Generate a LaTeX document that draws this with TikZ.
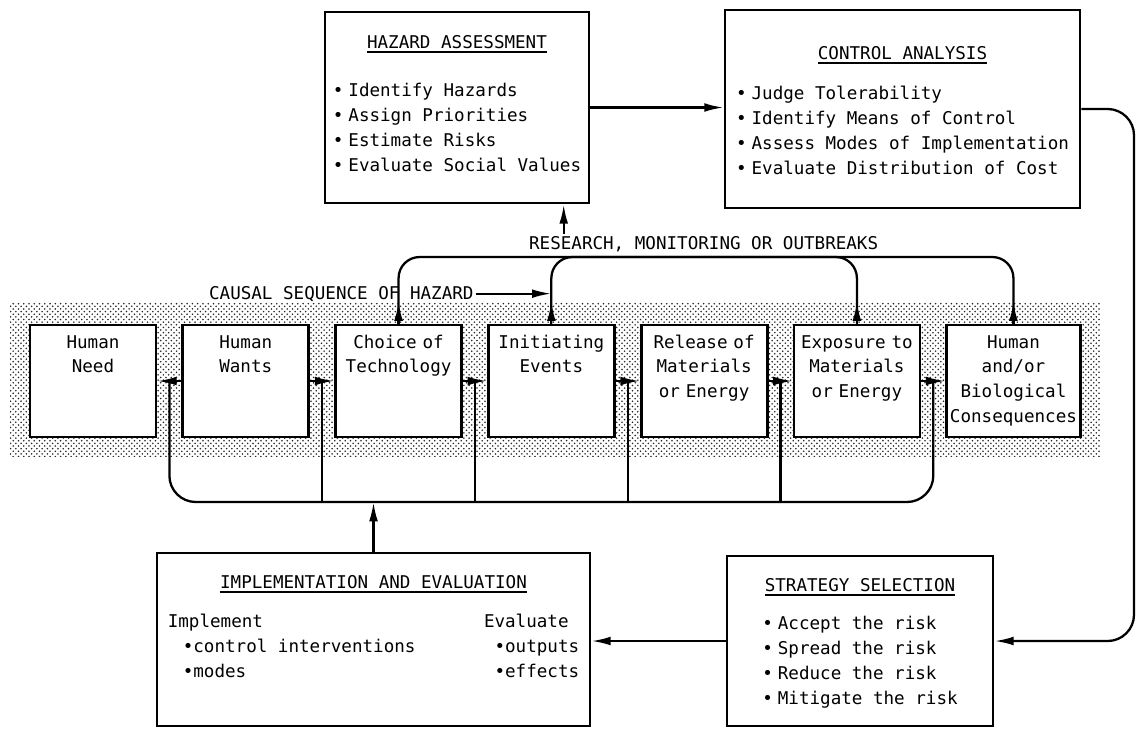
\documentclass[tikz,border=0pt]{standalone}
\usepackage{fontspec}
\setmainfont{DejaVu Sans Mono}
\usetikzlibrary{positioning,arrows.meta,calc,patterns}

\newcommand{\heading}[1]{\setbox0=\hbox{#1}\rlap{\rule[-3pt]{\wd0}{1.2pt}}\box0}
\newcommand{\bul}{\textbullet\hspace{0.1cm}}

\begin{document}
\begin{tikzpicture}[x=0.02cm, y=-0.02cm, >={Latex[length=11pt,width=5pt]},
    node distance=0.48cm,
    every node/.style={font=\fontsize{10}{14.2}\selectfont},
    chainbox/.style={draw, line width=1.6pt, fill=white, inner xsep=0.06cm, inner ysep=0pt,
      text width=2.4cm, align=center, text height=0.46cm, text depth=1.78cm},
    panel/.style={draw, line width=1.6pt, fill=white, inner sep=0pt},
    link/.style={line width=1.3pt},
    tag/.style={inner sep=1pt}]

  \useasboundingbox (0,0) rectangle (1138,728);

  % shaded band behind the causal chain
  \fill[pattern=crosshatch dots, pattern color=black!85] (10,302) rectangle (1100,456);

  % causal chain
  \node[chainbox] (need) at (93,381) {Human\\Need};
  \node[chainbox, right=of need] (wants) {Human\\Wants};
  \node[chainbox, right=of wants] (choice) {Choice of\\Technology};
  \node[chainbox, right=of choice] (init) {Initiating\\Events};
  \node[chainbox, right=of init] (release) {Release of\\Materials\\or Energy};
  \node[chainbox, right=of release] (expo) {Exposure to\\Materials\\or Energy};
  \node[chainbox, right=of expo, text width=2.55cm] (human) {Human\\and/or\\Biological\\Consequences};

  \draw[link,->] (wants) -- (need);
  \foreach \a/\b in {wants/choice, choice/init, init/release, release/expo, expo/human}
    \draw[link,->] (\a) -- (\b);

  % feedback bus under the chain
  \coordinate (fb) at (0,502);
  \foreach \a/\b/\g in {need/wants/g1, wants/choice/g2, choice/init/g3,
                        init/release/g4, release/expo/g5, expo/human/g6}
    \coordinate (\g) at ($(\a.east)!0.5!(\b.west)$);
  \draw[link, rounded corners=15pt] (g1) -- (g1 |- fb) -- (g6 |- fb) -- (g6);
  \foreach \g in {g2,g3,g4,g5}
    \draw[link] (\g |- fb) -- (\g);

  % management boxes
  \node[panel, minimum width=5.28cm, text height=0.72cm, text depth=3.1cm] (hazard) at (457,107.5) {%
    \begin{tabular}[t]{@{}l@{}}
      \multicolumn{1}{@{}c@{}}{\heading{HAZARD ASSESSMENT}}\\[0.48cm]
      \bul Identify Hazards\\
      \bul Assign Priorities\\
      \bul Estimate Risks\\
      \bul Evaluate Social Values
    \end{tabular}};
  \node[panel, minimum width=7.1cm, text height=0.98cm, text depth=2.98cm] (control) at (902.5,109) {%
    \begin{tabular}[t]{@{}l@{}}
      \multicolumn{1}{@{}c@{}}{\heading{CONTROL ANALYSIS}}\\[0.32cm]
      \bul Judge Tolerability\\
      \bul Identify Means of Control\\
      \bul Assess Modes of Implementation\\
      \bul Evaluate Distribution of Cost
    \end{tabular}};
  \node[panel, minimum width=5.32cm, text height=0.7cm, text depth=2.7cm] (strategy) at (860,641) {%
    \begin{tabular}[t]{@{}l@{}}
      \multicolumn{1}{@{}c@{}}{\heading{STRATEGY SELECTION}}\\[0.28cm]
      \bul Accept the risk\\
      \bul Spread the risk\\
      \bul Reduce the risk\\
      \bul Mitigate the risk
    \end{tabular}};
  \node[panel, minimum width=8.66cm, text height=0.7cm, text depth=2.76cm] (impl) at (373.5,639.5) {%
    \begin{tabular}[t]{@{}l@{\hspace{1.37cm}}l@{}}
      \multicolumn{2}{@{}c@{}}{\heading{IMPLEMENTATION AND EVALUATION}}\\[0.3cm]
      Implement & Evaluate\\
      \hspace{0.3cm}\textbullet control interventions & \ \textbullet outputs\\
      \hspace{0.3cm}\textbullet modes & \ \textbullet effects
    \end{tabular}};

  \draw[link,->] (hazard.east) -- (hazard.east -| control.west);
  \coordinate (edge) at (1134,0);
  \draw[link,->, rounded corners=15pt] (control.east) -| (edge |- strategy.east) -- (strategy.east);
  \draw[link,->] (strategy.west) -- (strategy.west -| impl.east);
  \draw[link,->] (impl.north) -- (impl.north |- fb);

  % research links over the chain
  \coordinate (rb) at (0,257);
  \foreach \n in {choice,init,expo,human}
    \draw[link,->] (\n.north) -- ++(0,-22);
  \draw[link, rounded corners=12pt] (choice.north) |- (expo.north |- rb) -- (expo.north);
  \draw[link, rounded corners=12pt] (init.north) |- (human.north |- rb) -- (human.north);
  \node[tag, anchor=base west] (research) at (527,249) {RESEARCH, MONITORING OR OUTBREAKS};
  \coordinate (hazin) at ($(hazard.south west)!0.9!(hazard.south east)$);
  \draw[link,->] (hazin |- research.north) -- (hazin);
  \node[tag, anchor=base west] (causal) at (207,299) {CAUSAL SEQUENCE OF HAZARD};
  \draw[link,->] (causal.east) -- (causal.east -| init.north);
\end{tikzpicture}
\end{document}
